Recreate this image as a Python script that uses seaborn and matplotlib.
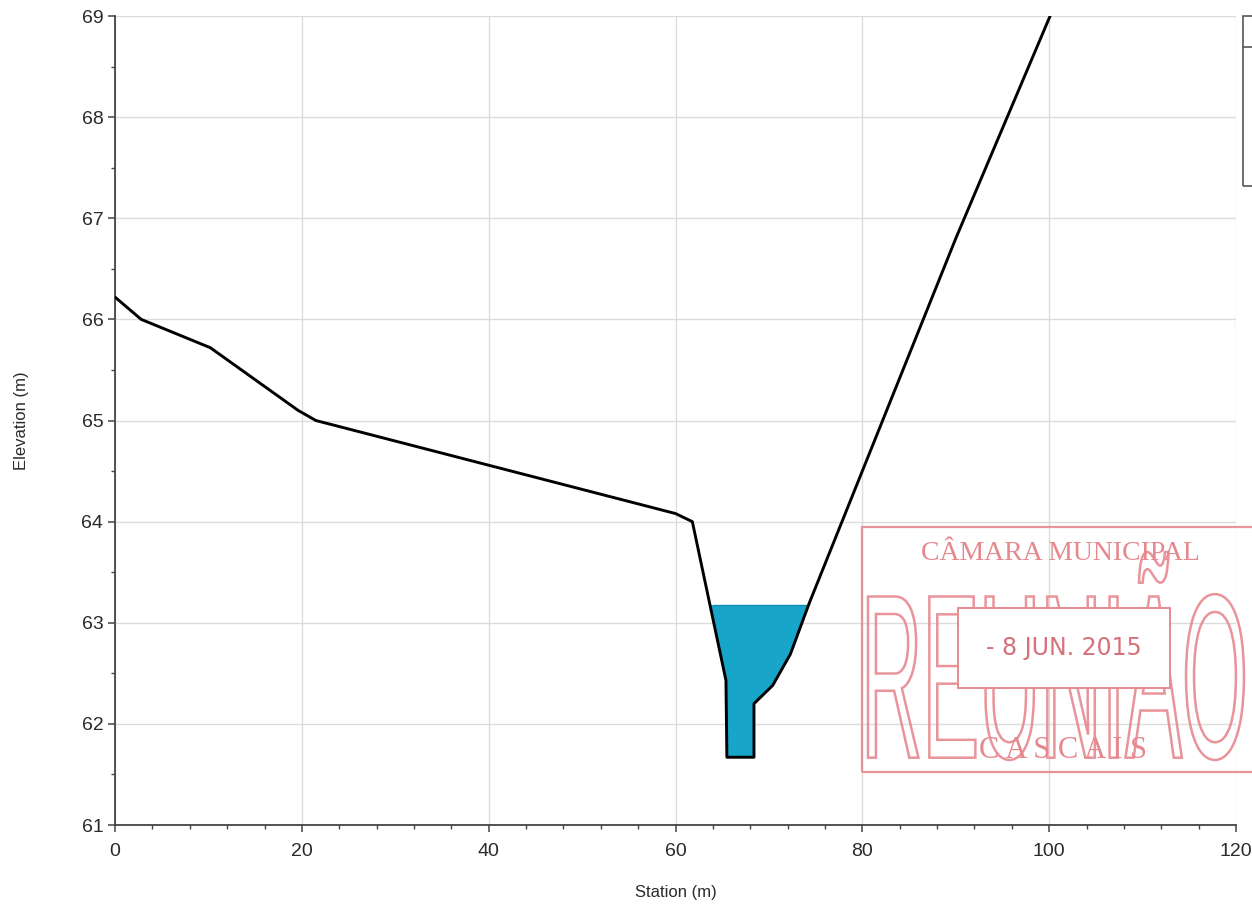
import numpy as np
import pandas as pd
import matplotlib
matplotlib.use("Agg")
import matplotlib.pyplot as plt
import seaborn as sns
from matplotlib.textpath import TextPath
from matplotlib.patches import PathPatch, Rectangle
from matplotlib.transforms import Affine2D, IdentityTransform
from matplotlib.font_manager import FontProperties
from matplotlib.ticker import MultipleLocator

# ---- data ----
station = [0, 2.8, 10.2, 19.6, 21.5, 60.0, 61.8, 65.4, 65.5, 68.4, 68.4, 70.4, 72.3, 74.3, 90.0, 100.1]
elevation = [66.22, 66.0, 65.72, 65.1, 65.0, 64.08, 64.0, 62.43, 61.67, 61.67, 62.2, 62.38, 62.69, 63.19, 66.8, 69.0]
water_surface = 63.18
x_ticks = [0, 20, 40, 60, 80, 100, 120]
y_ticks = [61, 62, 63, 64, 65, 66, 67, 68, 69]
stamp_lines = ["CÂMARA MUNICIPAL", "REUNIÃO", "- 8 JUN. 2015", "C A S C A I S"]

sns.set_theme(style="white")
plt.rcParams['font.family'] = ['Liberation Sans', 'DejaVu Sans']

fig = plt.figure(figsize=(12.52, 9.06), dpi=100)
ax = fig.add_axes([0.0919, 0.0894, 0.8953, 0.8929])

df = pd.DataFrame({"Station": station, "Elevation": elevation})

# water fill
xs = np.array(station)
ys = np.array(elevation)
ax.fill_between(xs, ys, water_surface, where=ys <= water_surface, interpolate=True,
                color="#17a5c9", zorder=2, linewidth=0)
ax.plot([64.05, 74.3], [water_surface, water_surface], color="#0f8fb0", lw=1.0, zorder=2)

sns.lineplot(data=df, x="Station", y="Elevation", sort=False, color="black",
             linewidth=2.1, ax=ax, zorder=3, estimator=None)

ax.set_xlim(0, 120)
ax.set_ylim(61, 69)
ax.set_xticks(x_ticks)
ax.set_yticks(y_ticks)
ax.xaxis.set_minor_locator(MultipleLocator(4))
ax.yaxis.set_minor_locator(MultipleLocator(0.5))
ax.grid(True, which="major", color="#dcdcdc", linewidth=1.0, zorder=0)
ax.set_axisbelow(True)
for s in ["top", "right"]:
    ax.spines[s].set_visible(False)
for s in ["left", "bottom"]:
    ax.spines[s].set_color("#444444")
    ax.spines[s].set_linewidth(1.3)
ax.tick_params(axis="both", which="major", direction="out", length=5, width=1.1,
               color="#444444", labelsize=14, labelcolor="#2a2a2a", bottom=True, left=True)
ax.tick_params(axis="x", which="major", pad=8)
ax.tick_params(axis="both", which="minor", direction="out", length=3, width=1.0,
               color="#444444", bottom=True, left=True)
ax.set_xlabel("Station (m)", fontsize=12, color="#2a2a2a", labelpad=18)
ax.set_ylabel("Elevation (m)", fontsize=12, color="#2a2a2a", labelpad=38)

# partial legend box at top right (cropped in scan)
fig.patches.append(Rectangle((1243/1252, 1-186/906), 0.02, (186-16)/906, transform=fig.transFigure,
                             fill=False, edgecolor="#555555", lw=1.2, clip_on=False))
fig.lines.append(plt.Line2D([1243/1252, 1.0], [1-47/906, 1-47/906], transform=fig.transFigure,
                            color="#555555", lw=1.2))

# ---- stamp ----
pink = "#e6898f"
W, H = 1252, 906
def fx(px): return px / W
def fy(py): return 1 - py / H

fig.patches.append(Rectangle((fx(862), fy(772)), fx(1252) - fx(862) + 0.01, fy(527) - fy(772),
                             transform=fig.transFigure, fill=False, edgecolor=pink, lw=1.6, alpha=0.9))
fig.text(fx(1060), fy(553), stamp_lines[0], ha="center", va="center", color=pink,
         fontsize=20, family="Liberation Serif")

# big outlined word, scaled into its box
fp = FontProperties(family="Liberation Sans")
tp = TextPath((0, 0), stamp_lines[1], size=100, prop=fp)
bb = tp.get_extents()
x0, x1, ytop, ybot = 868, 1244, 552, 760
sx = (x1 - x0) / bb.width
sy = (ybot - ytop) / bb.height
tr = Affine2D().translate(-bb.x0, -bb.y0).scale(sx, sy).translate(x0, H - ybot)
path = tr.transform_path(tp)
fig.patches.append(PathPatch(path, transform=IdentityTransform(),
                             fill=False, edgecolor=pink, lw=1.8, alpha=0.9))

# date box
fig.patches.append(Rectangle((fx(958), fy(688)), fx(1170) - fx(958), fy(608) - fy(688),
                             transform=fig.transFigure, facecolor="white", edgecolor=pink, lw=1.4, zorder=5))
fig.text(fx(1064), fy(648), stamp_lines[2], ha="center", va="center", color="#d8707a",
         fontsize=17, family="DejaVu Sans Condensed", zorder=6)
fig.text(fx(1063), fy(750), stamp_lines[3], ha="center", va="center", color=pink,
         fontsize=22, family="Liberation Serif")

fig.savefig("out.png", dpi=100, facecolor="white")
